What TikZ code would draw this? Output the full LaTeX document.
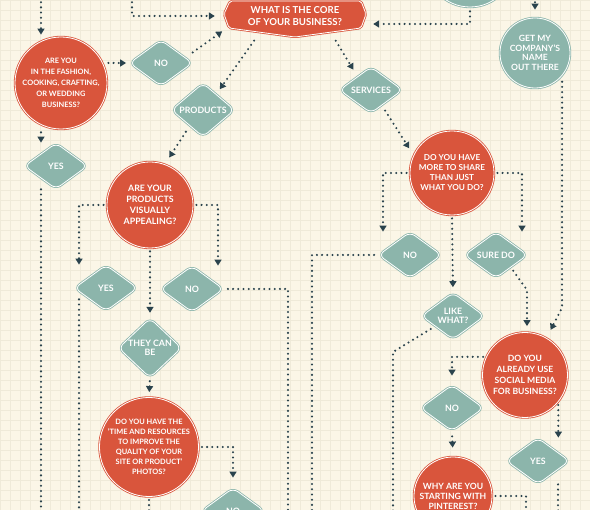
\documentclass[tikz,border=0pt]{standalone}
\usepackage{fontspec}
\setsansfont{Lato}
\usetikzlibrary{arrows.meta, shapes.geometric}

\definecolor{paper}{HTML}{FBF6E7}
\definecolor{gridline}{HTML}{EFEAD9}
\definecolor{askred}{HTML}{D9553C}
\definecolor{ansteal}{HTML}{8CB5AB}
\definecolor{ink}{HTML}{2A434D}

\newcommand{\txtsize}[2]{\fontsize{#1}{#2}\selectfont}

\begin{document}
\begin{tikzpicture}[
  x=1pt, y=-1pt,
  >={Triangle[width=7pt, length=6pt]},
  % --- node styles ---
  ask/.style={
    circle, fill=askred, draw=askred, line width=0.8pt,
    double=white, double distance=0.8pt,
    text=white, align=center, inner sep=0pt,
    font=\sffamily\bfseries\txtsize{8.2}{10}
  },
  say/.style={
    ask, fill=ansteal, draw=ansteal
  },
  ans/.style={
    diamond, rounded corners=6pt,
    fill=ansteal, draw=ansteal, line width=0.8pt,
    double=white, double distance=0.8pt,
    minimum width=63pt, minimum height=46pt,
    text=white, align=center, inner sep=0pt,
    font=\sffamily\bfseries\txtsize{8.8}{9.5}
  },
  banner/.style={
    fill=askred, draw=askred, line width=0.8pt,
    double=white, double distance=0.8pt, rounded corners=2pt
  },
  link/.style={draw=ink, line width=2.3pt, line cap=round,
    dash pattern=on 0pt off 5.2pt},
  arr/.style={link, ->, shorten >=5pt, shorten <=3pt},
]

\useasboundingbox (0,0) rectangle (590,510);
\clip (0,0) rectangle (590,510);

% ══════════════════════════════════════════════
% PAPER
% ══════════════════════════════════════════════

\fill[paper] (0,0) rectangle (590,510);
\draw[gridline, line width=0.45pt, step=10pt] (0,0) grid (590,510);

% ══════════════════════════════════════════════
% TOP: CORE QUESTION
% ══════════════════════════════════════════════

\draw[banner] (230,1) -- (361,1) -- (366,14) -- (361,28) -- (295,37)
  -- (229,28) -- (224,14) -- cycle;
\node[text=white, align=center, inner sep=0pt,
  minimum width=142pt, minimum height=34pt,
  font=\sffamily\bfseries\txtsize{9.6}{12}] (core) at (295,16)
  {WHAT IS THE CORE\\OF YOUR BUSINESS?};

\node[say, minimum size=88pt] (topc) at (470,-37) {};

% ══════════════════════════════════════════════
% LEFT BRANCH
% ══════════════════════════════════════════════

\node[ask, minimum size=92pt, font=\sffamily\bfseries\txtsize{7.4}{11}]
  (fashion) at (61,83)
  {ARE YOU\\IN THE FASHION,\\COOKING, CRAFTING,\\OR WEDDING\\BUSINESS?};
\node[ans] (no1) at (161,63) {NO};
\node[ans] (yes1) at (56,166) {YES};
\node[ans] (products) at (203,110) {PRODUCTS};

\node[ask, minimum size=86pt, font=\sffamily\bfseries\txtsize{8.8}{11}]
  (visual) at (150,205)
  {ARE YOUR\\PRODUCTS\\VISUALLY\\APPEALING?};
\node[ans] (yes2) at (106,288) {YES};
\node[ans] (no2) at (192,289) {NO};
\node[ans] (cando) at (150,348) {THEY CAN\\BE};

\node[ask, minimum size=98pt, font=\sffamily\bfseries\txtsize{7.4}{10}]
  (time) at (149,447)
  {DO YOU HAVE THE\\'TIME AND RESOURCES\\TO IMPROVE THE\\QUALITY OF YOUR\\SITE OR PRODUCT'\\PHOTOS?};
\node[ans] (no3) at (233,511) {NO};

% ══════════════════════════════════════════════
% RIGHT BRANCH
% ══════════════════════════════════════════════

\node[say, minimum size=70pt, font=\sffamily\bfseries\txtsize{8.6}{9.7}]
  (get) at (535,53)
  {GET MY\\COMPANY'S\\NAME\\OUT THERE};
\node[ans] (services) at (371,90) {SERVICES};

\node[ask, minimum size=84pt] (share) at (452,173)
  {DO YOU HAVE\\MORE TO SHARE\\THAN JUST\\WHAT YOU DO?};
\node[ans] (no4) at (410,255) {NO};
\node[ans] (suredo) at (496,255) {SURE DO};
\node[ans] (like) at (453,316) {LIKE\\WHAT?};

\node[ask, minimum size=85pt, font=\sffamily\bfseries\txtsize{8.6}{11}]
  (social) at (525,375)
  {DO YOU\\ALREADY USE\\SOCIAL MEDIA\\FOR BUSINESS?};
\node[ans] (no5) at (452,408) {NO};
\node[ans] (yes3) at (538,461) {YES};

\node[ask, minimum size=78pt, font=\sffamily\bfseries\txtsize{8.6}{10}]
  (why) at (453,496)
  {WHY ARE YOU\\STARTING WITH\\PINTEREST?};

% ══════════════════════════════════════════════
% LOOSE ENDS (off the page)
% ══════════════════════════════════════════════

\coordinate (inFashion) at (41,-3);
\coordinate (inCore) at (132,-3);
\coordinate (inGet) at (535,-3);

\coordinate (outYes1) at (41,513);
\coordinate (outYes2) at (79,513);
\coordinate (outTime) at (149,513);
\coordinate (outNo2) at (288,513);
\coordinate (outNo4) at (312,513);
\coordinate (outLike) at (393,513);
\coordinate (outWhy) at (526,513);
\coordinate (outYes3) at (558,513);

\coordinate (likeBend) at (393,352);
\coordinate (sureBend) at (527,290);
\coordinate (getBend) at (562,308);

% ══════════════════════════════════════════════
% CONNECTORS: TOP
% ══════════════════════════════════════════════

\draw[arr, shorten <=0pt, shorten >=2pt] (inFashion) -- (inFashion |- fashion.north);
\draw[arr, shorten <=0pt, shorten >=9pt] (inCore) |- (core.west);
\draw[arr, shorten <=4pt, shorten >=7pt] (topc.south) |- ([yshift=-8pt]core.east);
\draw[arr, shorten <=0pt, shorten >=8pt] (inGet) -- (inGet |- get.north);

\draw[arr, shorten <=1pt, shorten >=3pt] (no1.west -| fashion.east) -- (no1.west);
\draw[arr, shorten <=1pt, shorten >=2pt]
  ([shift={(-1pt,10pt)}]no1.east) -- ([yshift=3pt]core.south west);
\draw[arr, shorten >=6pt] ([shift={(32pt,-5pt)}]core.south west) -- (products.50);
\draw[arr, shorten >=8pt] ([shift={(-32pt,-5pt)}]core.south east) -- (services.135);

% ══════════════════════════════════════════════
% CONNECTORS: LEFT
% ══════════════════════════════════════════════

\draw[arr, shorten >=0pt] (fashion.south -| inFashion) -- (yes1.north -| inFashion);
\draw[link] (yes1.south -| outYes1) -- (outYes1);
\draw[arr, shorten <=7pt, shorten >=8pt] (products.-130) -- (visual.70);

\draw[arr, shorten >=0pt] (visual.west) -| ([xshift=-27pt]yes2.north);
\draw[arr, shorten >=0pt] (visual.east) -| ([xshift=26pt]no2.north);
\draw[arr] (visual.south) -- (cando.north);
\draw[link] ([shift={(-27pt,12pt)}]yes2.south) -- (outYes2);
\draw[link, shorten <=4pt] (no2.east) -| (outNo2);

\draw[arr] (cando.south) -- (time.north);
\draw[arr, shorten >=10pt] (time.east) -| (no3.north);
\draw[link, shorten <=3pt] (time.south) -- (outTime);

% ══════════════════════════════════════════════
% CONNECTORS: RIGHT
% ══════════════════════════════════════════════

\draw[arr, shorten <=6pt, shorten >=8pt] (services.-55) -- (share.155);
\draw[arr, shorten >=0pt] (share.west) -| ([xshift=-27pt]no4.north);
\draw[arr, shorten >=0pt] (share.east) -| ([xshift=26pt]suredo.north);
\draw[arr] (share.south) -- (like.north);

\draw[link, shorten <=4pt] (no4.west) -| (outNo4);
\draw[link, shorten <=5pt] (like.-150) -- (likeBend) -- (outLike);
\draw[arr, shorten <=4pt, shorten >=6pt]
  (suredo.-40) -- (sureBend) -- (sureBend |- social.north);
\draw[arr, shorten <=6pt, shorten >=9pt] (get.-40) -- (getBend) -- (social.60);

\draw[arr, shorten >=9pt] (social.155) -| (no5.north);
\draw[arr, shorten >=0pt] (social.-39) -- (social.-39 |- yes3.north);
\draw[link] (yes3.south -| outYes3) -- (outYes3);
\draw[arr, shorten <=5pt, shorten >=9pt] (no5.south) -- (why.north);
\draw[link, shorten <=3pt] (why.east) -| (outWhy);

\end{tikzpicture}
\end{document}
